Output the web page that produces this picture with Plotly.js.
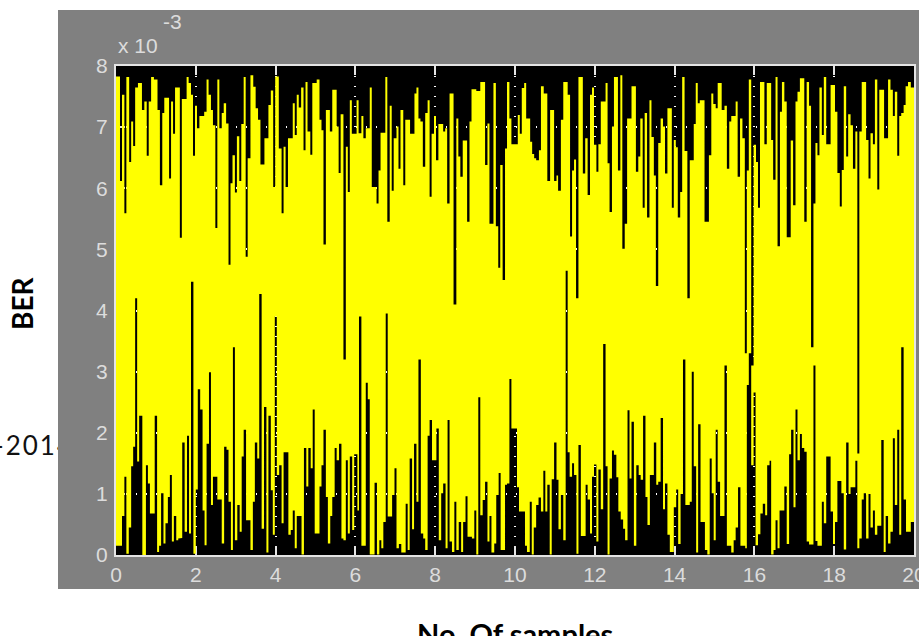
<!DOCTYPE html>
<html><head><meta charset="utf-8">
<script src="https://cdn.plot.ly/plotly-3.0.1.min.js"></script>
<style>
html,body{margin:0;padding:0;background:#fff;width:919px;height:636px;overflow:hidden}
#note{position:absolute;left:-6px;top:429px;font:26px Lato,sans-serif;letter-spacing:2px;color:#111;z-index:0;white-space:nowrap}
#chart{position:absolute;left:0;top:0;width:919px;height:636px;z-index:1}
</style></head><body>
<div id="note">-2014</div>
<div id="chart"></div>
<script>
const topX = [
0.00,0.10,0.15,0.21,0.26,0.33,0.38,0.43,0.48,0.55,
0.65,0.71,0.77,0.82,0.88,0.95,1.04,1.10,1.16,1.21,
1.33,1.38,1.43,1.48,1.60,1.65,1.77,1.82,1.88,1.93,
1.98,2.03,2.09,2.21,2.27,2.32,2.38,2.43,2.49,2.54,
2.59,2.65,2.70,2.76,2.82,2.87,2.92,2.98,3.03,3.09,
3.14,3.20,3.25,3.30,3.37,3.44,3.50,3.56,3.62,3.72,
3.82,3.88,3.94,3.99,4.08,4.15,4.20,4.25,4.31,4.43,
4.48,4.53,4.58,4.64,4.70,4.75,4.80,4.87,4.92,5.03,
5.10,5.15,5.20,5.26,5.36,5.42,5.53,5.58,5.63,5.70,
5.76,5.81,5.86,5.91,6.03,6.08,6.15,6.20,6.26,6.36,
6.41,6.53,6.58,6.63,6.75,6.80,6.86,6.91,6.96,7.03,
7.08,7.13,7.20,7.25,7.37,7.48,7.53,7.58,7.63,7.69,
7.75,7.81,7.86,7.91,7.97,8.02,8.08,8.20,8.25,8.30,
8.36,8.46,8.53,8.58,8.63,8.69,8.80,8.86,8.91,9.03,
9.13,9.25,9.31,9.36,9.46,9.52,9.58,9.63,9.69,9.75,
9.80,9.86,9.91,10.07,10.12,10.17,10.23,10.28,10.38,10.43,
10.48,10.53,10.60,10.65,10.72,10.81,10.88,10.98,11.04,11.08,
11.15,11.21,11.32,11.38,11.43,11.48,11.53,11.59,11.70,11.76,
11.82,11.88,11.93,11.98,12.04,12.09,12.15,12.27,12.32,12.37,
12.43,12.48,12.58,12.64,12.69,12.75,12.81,12.92,13.03,13.09,
13.14,13.20,13.25,13.31,13.37,13.42,13.48,13.53,13.59,13.65,
13.71,13.76,13.82,13.93,13.98,14.03,14.08,14.14,14.19,14.25,
14.32,14.38,14.48,14.53,14.58,14.63,14.75,14.86,14.92,14.97,
15.03,15.08,15.18,15.25,15.31,15.37,15.42,15.53,15.58,15.64,
15.70,15.76,15.81,15.86,15.92,15.98,16.04,16.09,16.14,16.25,
16.31,16.42,16.47,16.53,16.58,16.64,16.69,16.75,16.81,16.91,
16.97,17.03,17.08,17.14,17.25,17.31,17.37,17.42,17.48,17.53,
17.58,17.63,17.69,17.74,17.80,17.91,18.02,18.08,18.14,18.19,
18.24,18.30,18.35,18.41,18.47,18.53,18.58,18.63,18.69,18.80,
18.86,18.91,18.97,19.02,19.08,19.13,19.25,19.35,19.41,19.47,
19.52,19.58,19.63,19.68,19.74,19.79,19.85,19.92
];
const topBer = [
7.83,6.12,7.53,5.59,7.82,6.43,7.09,6.69,7.65,7.72,
7.28,7.42,6.53,7.42,7.82,7.78,7.28,6.05,7.23,7.48,
6.16,7.42,6.89,7.65,5.19,7.46,7.82,7.72,7.53,6.53,
7.35,6.98,7.18,7.25,7.78,7.53,7.28,7.03,5.35,7.78,
6.98,7.23,7.39,7.06,4.75,6.08,6.54,5.93,6.85,6.12,
7.05,7.82,4.88,6.49,7.85,7.66,7.31,7.12,6.39,6.82,
7.36,7.60,6.02,7.83,6.65,5.59,6.68,6.02,6.82,7.39,
6.87,7.53,7.32,7.65,6.62,7.74,6.93,6.55,7.72,7.78,
7.12,6.95,5.08,7.28,6.93,7.61,7.01,6.25,7.21,3.20,
6.68,5.94,7.44,6.89,7.44,6.90,7.18,6.82,6.98,7.65,
6.02,5.75,6.29,6.91,7.82,5.45,7.35,5.96,6.82,7.01,
6.32,7.28,6.05,7.12,6.89,7.55,7.65,7.14,7.09,6.35,
7.23,7.44,5.86,6.89,7.18,6.46,7.05,6.93,6.98,5.75,
7.55,4.10,7.14,6.52,6.19,6.78,5.45,7.09,7.62,7.59,
7.74,6.38,7.06,5.42,7.72,5.38,4.70,6.38,4.50,6.65,
7.74,7.14,6.72,7.20,6.89,7.64,7.72,7.14,6.76,6.56,
6.49,6.46,6.62,7.67,7.55,6.12,7.28,6.12,6.21,5.96,
7.12,7.74,7.53,5.21,6.29,6.47,4.20,7.82,6.24,6.82,
5.89,7.53,7.65,6.71,6.27,6.72,7.42,7.72,6.41,5.61,
7.01,7.82,6.29,7.85,5.01,5.42,7.14,7.67,6.27,6.52,
7.14,5.68,7.23,5.52,7.44,6.84,6.21,4.40,6.74,7.14,
7.01,6.24,7.31,5.68,6.79,6.67,5.52,5.94,7.82,6.61,
4.20,6.46,7.05,7.72,7.39,7.44,5.45,6.54,7.55,7.38,
7.31,7.72,7.28,7.35,6.32,7.09,7.18,7.42,6.19,7.14,
6.82,3.30,6.29,7.78,3.10,6.71,6.43,5.68,7.74,6.72,
7.72,6.79,6.14,7.82,5.05,7.25,7.74,7.42,5.20,6.78,
5.72,7.42,7.58,7.80,5.45,7.74,7.35,3.40,5.75,6.74,
6.54,7.65,6.87,7.82,6.72,7.69,7.25,6.25,5.70,6.30,
7.67,6.52,7.21,7.03,6.32,6.93,1.66,6.93,7.74,6.79,
6.16,6.90,6.72,7.78,5.98,7.61,6.82,7.78,7.61,7.18,
7.58,6.53,7.18,7.23,7.36,7.67,7.74,7.65
];
const lowX = [
0.00,0.15,0.21,0.26,0.32,0.38,0.43,0.48,0.53,0.58,
0.66,0.75,0.80,0.85,0.97,1.03,1.08,1.13,1.19,1.24,
1.30,1.35,1.40,1.45,1.51,1.56,1.60,1.66,1.72,1.78,
1.83,1.88,1.94,2.00,2.05,2.11,2.17,2.22,2.27,2.33,
2.38,2.43,2.54,2.65,2.71,2.77,2.82,2.88,2.93,2.98,
3.04,3.10,3.15,3.20,3.26,3.37,3.43,3.48,3.54,3.59,
3.65,3.71,3.77,3.82,3.88,3.93,3.98,4.03,4.09,4.15,
4.20,4.32,4.38,4.43,4.48,4.53,4.65,4.71,4.77,4.82,
4.88,4.93,4.98,5.10,5.15,5.20,5.26,5.31,5.37,5.42,
5.48,5.53,5.59,5.65,5.70,5.76,5.81,5.86,5.92,5.97,
6.05,6.09,6.15,6.26,6.31,6.36,6.48,6.54,6.60,6.65,
6.70,6.76,6.81,6.92,6.98,7.03,7.09,7.15,7.26,7.31,
7.36,7.42,7.47,7.53,7.58,7.64,7.70,7.75,7.81,7.86,
7.92,8.03,8.09,8.15,8.20,8.26,8.31,8.36,8.42,8.48,
8.53,8.59,8.65,8.70,8.76,8.81,8.92,8.98,9.03,9.08,
9.13,9.19,9.25,9.31,9.36,9.41,9.48,9.53,9.59,9.64,
9.75,9.80,9.86,9.91,10.05,10.10,10.25,10.30,10.37,10.42,
10.47,10.53,10.59,10.65,10.71,10.76,10.81,10.87,10.92,10.98,
11.04,11.09,11.15,11.21,11.27,11.32,11.37,11.43,11.48,11.54,
11.59,11.65,11.77,11.82,11.88,11.93,11.98,12.04,12.09,12.15,
12.21,12.27,12.32,12.37,12.43,12.48,12.54,12.59,12.65,12.71,
12.76,12.82,12.87,12.92,12.98,13.04,13.10,13.15,13.21,13.27,
13.32,13.38,13.48,13.54,13.59,13.65,13.71,13.76,13.82,13.88,
13.98,14.04,14.09,14.15,14.21,14.27,14.38,14.43,14.48,14.54,
14.59,14.65,14.76,14.82,14.88,14.93,14.98,15.03,15.08,15.14,
15.25,15.31,15.42,15.48,15.53,15.59,15.65,15.77,15.81,15.86,
15.92,15.98,16.03,16.09,16.15,16.21,16.27,16.32,16.38,16.42,
16.48,16.53,16.58,16.63,16.75,16.81,16.87,16.92,16.98,17.03,
17.08,17.14,17.19,17.25,17.31,17.37,17.48,17.53,17.58,17.69,
17.74,17.80,17.91,17.97,18.02,18.08,18.18,18.24,18.30,18.36,
18.41,18.53,18.58,18.63,18.69,18.74,18.80,18.86,18.91,18.97,
19.02,19.08,19.18,19.24,19.29,19.35,19.41,19.47,19.52,19.58,
19.63,19.68,19.74,19.80,19.92
];
const lowBer = [
0.15,0.64,1.28,0.02,0.45,1.45,1.77,4.20,1.53,2.28,
0.00,1.47,1.17,0.68,2.28,0.05,0.15,1.01,0.19,0.52,
0.95,1.31,0.22,0.64,0.24,0.27,0.28,1.84,0.38,1.95,
0.35,4.47,0.02,1.07,2.71,2.38,0.73,0.16,1.82,2.99,
0.82,1.28,0.91,0.19,1.77,1.72,0.87,0.08,3.40,0.24,
0.82,0.38,1.61,2.05,0.57,0.08,0.87,1.84,1.58,4.27,
0.43,2.42,0.04,2.28,1.06,0.33,3.90,1.31,1.47,0.52,
1.68,0.33,0.41,0.73,0.11,0.64,0.01,1.75,1.12,1.75,
1.42,2.38,0.35,1.12,1.47,2.05,0.95,0.19,0.64,0.95,
1.75,1.55,1.82,0.27,0.24,1.55,0.35,1.61,0.41,1.65,
0.73,3.90,0.15,2.82,2.55,0.01,1.18,0.01,0.24,0.11,
0.54,3.95,0.63,0.98,1.42,0.11,0.18,0.04,0.84,0.08,
1.58,0.42,1.82,0.87,3.20,0.35,0.27,0.08,1.95,2.21,
1.55,2.07,0.24,1.01,1.17,0.11,2.21,0.22,0.05,0.87,
0.08,0.54,0.05,0.54,0.96,0.30,0.27,0.73,0.01,2.58,
0.65,0.90,1.20,0.22,0.64,0.04,0.19,0.98,1.34,0.08,
1.15,1.17,2.88,2.07,1.11,0.71,0.15,0.05,0.87,0.01,
0.45,0.82,0.94,0.71,1.38,0.71,1.15,0.01,1.24,1.84,
1.23,0.42,0.98,0.24,4.65,1.68,1.28,1.50,1.31,0.02,
1.80,0.31,1.15,0.91,0.35,1.28,1.48,0.22,1.40,0.75,
3.45,1.45,0.01,1.25,1.71,1.64,1.27,0.71,0.58,0.43,
0.24,2.37,1.25,2.18,0.15,1.47,1.31,1.23,2.28,0.95,
0.49,1.31,1.84,1.15,1.20,2.24,0.75,1.17,0.33,0.05,
0.78,1.07,0.18,1.00,3.20,0.82,0.87,3.00,1.45,0.04,
2.14,0.54,0.08,0.01,1.58,1.01,0.24,2.05,1.20,0.64,
3.10,0.15,0.04,0.24,0.45,1.11,0.15,0.11,2.78,3.30,
1.47,2.66,0.16,0.34,0.68,0.84,0.65,1.47,1.54,0.01,
0.08,0.57,0.11,0.73,1.12,0.18,1.65,2.05,0.78,2.38,
1.55,1.98,1.75,1.69,0.22,0.17,3.10,0.23,0.15,0.87,
0.52,1.61,0.71,0.18,0.54,1.21,1.01,0.09,1.84,1.00,
1.11,1.54,0.11,0.27,0.91,1.01,0.27,1.00,0.45,0.73,
0.33,0.48,1.88,0.05,0.64,0.19,0.38,1.91,0.82,2.05,
0.33,3.40,0.91,0.38,0.54
];
const edgeSpans = [[0,1.07,5.48],[20,0.68,6.82]];
const xTicks = [0,2,4,6,8,10,12,14,16,18,20];
const yTicks = [0,1,2,3,4,5,6,7,8];
const exponentText = 'x 10';
const exponentPower = '-3';
const xLabel = 'No. Of samples';
const yLabel = 'BER';

if (topX.length !== topBer.length || lowX.length !== lowBer.length) {
  throw new Error('len ' + [topX.length, topBer.length, lowX.length, lowBer.length]);
}
const xMax = 20, W = 919, H = 636, L = 116, R = 914, T = 66, B = 555;
const px = v => (v - L) / (R - L), py = v => (B - v) / (B - T);

const polyX = [], polyY = [];
topX.forEach((x, i) => {
  polyX.push(x, i + 1 < topX.length ? topX[i + 1] : xMax);
  polyY.push(topBer[i], topBer[i]);
});
for (let i = lowX.length - 1; i >= 0; i--) {
  polyX.push(i + 1 < lowX.length ? lowX[i + 1] : xMax, lowX[i]);
  polyY.push(lowBer[i], lowBer[i]);
}
const edgeX = [], edgeY = [];
edgeSpans.forEach(s => { edgeX.push(s[0], s[0], null); edgeY.push(s[1], s[2], null); });

const inkC = '#e4e4e4', grey = '#808080';
const tickFont = {family: 'Liberation Sans, Arial, sans-serif', size: 21, color: '#dcdcdc'};
const axisBase = {
  showline: true, linecolor: inkC, linewidth: 2, mirror: 'ticks',
  ticks: 'inside', ticklen: 9, tickwidth: 2, tickcolor: inkC,
  showgrid: true, gridcolor: '#ffffff', gridwidth: 2, griddash: '1px,9px',
  zeroline: false, layer: 'below traces', tickfont: tickFont, fixedrange: true,
  ticklabeloverflow: 'allow'
};
const xTitleFont = {family: 'Lato, sans-serif', size: 29, color: '#000', weight: 700};
const yTitleFont = {family: 'Lato, sans-serif', size: 28, color: '#000', weight: 700};

Plotly.newPlot('chart', [
  {x: polyX, y: polyY, mode: 'lines', fill: 'toself', fillcolor: '#ffff00',
   line: {width: 0, color: '#ffff00'}, hoverinfo: 'skip', showlegend: false},
  {x: edgeX, y: edgeY, mode: 'lines', cliponaxis: false,
   line: {width: 3, color: '#ffff00'}, hoverinfo: 'skip', showlegend: false}
], {
  width: W, height: H,
  margin: {l: L, r: W - R, t: T, b: H - B, pad: 0},
  paper_bgcolor: 'rgba(0,0,0,0)', plot_bgcolor: '#000000', showlegend: false,
  xaxis: Object.assign({}, axisBase, {range: [0, xMax], tickvals: xTicks, ticktext: xTicks.map(String)}),
  yaxis: Object.assign({}, axisBase, {range: [0, 8], tickvals: yTicks, ticktext: yTicks.map(String),
    ticklabelstandoff: 2}),
  shapes: [
    {type: 'rect', xref: 'paper', yref: 'paper', layer: 'below',
     x0: px(58), x1: px(919), y0: py(589), y1: py(10), fillcolor: grey, line: {width: 0}},
    {type: 'rect', xref: 'paper', yref: 'paper', layer: 'below',
     x0: 0, x1: 1, y0: 0, y1: 1, fillcolor: '#000000', line: {width: 0}}
  ],
  annotations: [
    {xref: 'paper', yref: 'paper', x: px(116), y: py(45), xanchor: 'left', yanchor: 'middle',
     text: exponentText, showarrow: false, font: tickFont},
    {xref: 'paper', yref: 'paper', x: px(161), y: py(21), xanchor: 'left', yanchor: 'middle',
     text: exponentPower, showarrow: false, font: tickFont},
    {xref: 'paper', yref: 'paper', x: px(22), y: py(303), xanchor: 'center', yanchor: 'middle',
     textangle: -90, text: yLabel, showarrow: false, font: yTitleFont},
    {xref: 'paper', yref: 'paper', x: px(515), y: py(633), xanchor: 'center', yanchor: 'middle',
     text: xLabel, showarrow: false, font: xTitleFont}
  ]
}, {displayModeBar: false, staticPlot: true});
</script>
</body></html>
